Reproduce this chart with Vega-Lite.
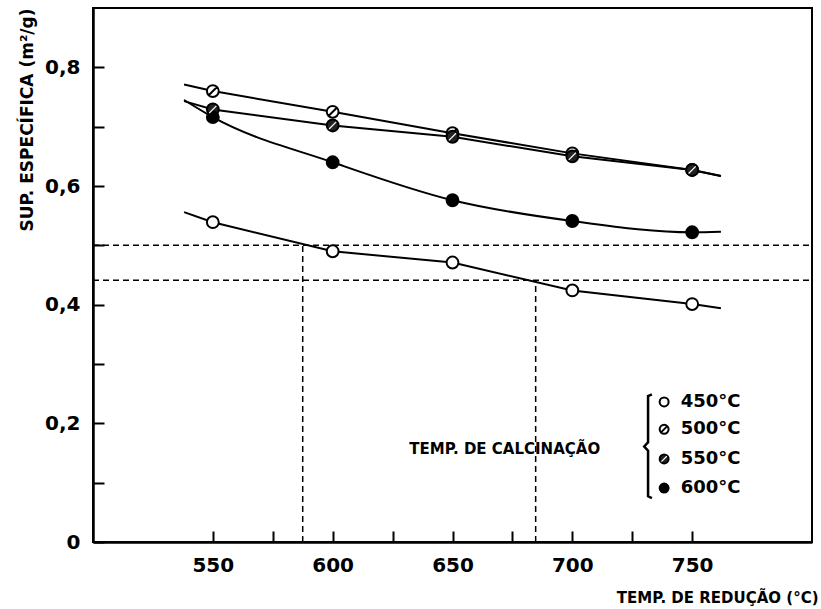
{
  "$schema": "https://vega.github.io/schema/vega-lite/v6.json",
  "width": 719,
  "height": 534,
  "autosize": "none",
  "padding": {"left": 93, "top": 8, "right": 9, "bottom": 67},
  "background": "white",
  "config": {
    "view": {"stroke": "black", "strokeWidth": 2},
    "axis": {
      "grid": false,
      "domainColor": "black",
      "domainWidth": 2.5,
      "tickColor": "black",
      "tickWidth": 2,
      "tickSize": -11,
      "labelFont": "DejaVu Sans",
      "labelFontWeight": "bold",
      "labelColor": "black",
      "titleFont": "DejaVu Sans",
      "titleFontWeight": "bold",
      "titleColor": "black"
    }
  },
  "datasets": {
    "series": [
      {"calc": "450°C", "x": 538, "y": 0.556, "pt": false},
      {"calc": "450°C", "x": 550, "y": 0.539, "pt": true},
      {"calc": "450°C", "x": 600, "y": 0.490, "pt": true},
      {"calc": "450°C", "x": 650, "y": 0.471, "pt": true},
      {"calc": "450°C", "x": 700, "y": 0.424, "pt": true},
      {"calc": "450°C", "x": 750, "y": 0.401, "pt": true},
      {"calc": "450°C", "x": 762, "y": 0.394, "pt": false},
      {"calc": "500°C", "x": 538, "y": 0.771, "pt": false},
      {"calc": "500°C", "x": 550, "y": 0.760, "pt": true},
      {"calc": "500°C", "x": 600, "y": 0.725, "pt": true},
      {"calc": "500°C", "x": 650, "y": 0.689, "pt": true},
      {"calc": "500°C", "x": 700, "y": 0.655, "pt": true},
      {"calc": "500°C", "x": 750, "y": 0.627, "pt": true},
      {"calc": "500°C", "x": 762, "y": 0.617, "pt": false},
      {"calc": "550°C", "x": 538, "y": 0.743, "pt": false},
      {"calc": "550°C", "x": 550, "y": 0.729, "pt": true},
      {"calc": "550°C", "x": 600, "y": 0.702, "pt": true},
      {"calc": "550°C", "x": 650, "y": 0.683, "pt": true},
      {"calc": "550°C", "x": 700, "y": 0.650, "pt": true},
      {"calc": "550°C", "x": 750, "y": 0.627, "pt": true},
      {"calc": "550°C", "x": 762, "y": 0.617, "pt": false},
      {"calc": "600°C", "x": 538, "y": 0.745, "pt": false},
      {"calc": "600°C", "x": 550, "y": 0.716, "pt": true},
      {"calc": "600°C", "x": 600, "y": 0.640, "pt": true},
      {"calc": "600°C", "x": 650, "y": 0.576, "pt": true},
      {"calc": "600°C", "x": 700, "y": 0.541, "pt": true},
      {"calc": "600°C", "x": 750, "y": 0.522, "pt": true},
      {"calc": "600°C", "x": 762, "y": 0.523, "pt": false}
    ],
    "guides": [
      {"x": 500, "y": 0.5, "x2": 800, "y2": 0.5},
      {"x": 500, "y": 0.441, "x2": 800, "y2": 0.441},
      {"x": 587.5, "y": 0, "x2": 587.5, "y2": 0.5},
      {"x": 684.7, "y": 0, "x2": 684.7, "y2": 0.441}
    ],
    "legend": [
      {"calc": "450°C", "x": 738.3, "y": 0.236, "lx": 745.2},
      {"calc": "500°C", "x": 738.3, "y": 0.190, "lx": 745.2},
      {"calc": "550°C", "x": 738.3, "y": 0.140, "lx": 745.2},
      {"calc": "600°C", "x": 738.3, "y": 0.091, "lx": 745.2}
    ],
    "notes": [
      {"text": "TEMP. DE CALCINAÇÃO", "x": 671.8, "y": 0.157}
    ],
    "brace": [
      {"o": 1, "x": 733.2, "y": 0.249},
      {"o": 2, "x": 731.6, "y": 0.246},
      {"o": 3, "x": 731.6, "y": 0.168},
      {"o": 4, "x": 730.0, "y": 0.161},
      {"o": 5, "x": 731.6, "y": 0.154},
      {"o": 6, "x": 731.6, "y": 0.077},
      {"o": 7, "x": 733.2, "y": 0.074}
    ]
  },
  "encoding": {
    "x": {
      "field": "x",
      "type": "quantitative",
      "scale": {"domain": [500, 800], "nice": false, "zero": false},
      "axis": {
        "values": [550, 575, 600, 625, 650, 675, 700, 725, 750],
        "format": "d",
        "labelExpr": "datum.value % 50 == 0 ? datum.label : ''",
        "labelFontSize": 20,
        "labelPadding": 24,
        "title": "TEMP.  DE  REDUÇÃO  (°C)",
        "titleFontSize": 15,
        "titleAnchor": "end",
        "titleAlign": "right",
        "titleX": 725,
        "titleY": 55,
        "titleBaseline": "middle"
      }
    },
    "y": {
      "field": "y",
      "type": "quantitative",
      "scale": {"domain": [0, 0.9], "nice": false},
      "axis": {
        "values": [0, 0.1, 0.2, 0.3, 0.4, 0.5, 0.6, 0.7, 0.8],
        "labelExpr": "datum.value == 0 ? '0' : (round(datum.value * 10) % 2 == 0 ? replace(format(datum.value, '.1f'), '.', ',') : '')",
        "labelFontSize": 20,
        "labelPadding": 24,
        "title": "SUP.  ESPECÍFICA  (m²/g)",
        "titleFontSize": 17,
        "titleAnchor": "end",
        "titleX": -66,
        "titleY": 0,
        "titleAlign": "right",
        "titleBaseline": "middle"
      }
    }
  },
  "layer": [
    {
      "data": {"name": "guides"},
      "mark": {"type": "rule", "color": "black", "strokeWidth": 1.5, "strokeDash": [6, 4]},
      "encoding": {"x2": {"field": "x2"}, "y2": {"field": "y2"}}
    },
    {
      "data": {"name": "series"},
      "transform": [{"filter": "datum.calc != '600°C'"}],
      "mark": {"type": "line", "color": "black", "strokeWidth": 2, "interpolate": "linear"},
      "encoding": {"detail": {"field": "calc"}}
    },
    {
      "data": {"name": "series"},
      "transform": [{"filter": "datum.calc == '600°C'"}],
      "mark": {"type": "line", "color": "black", "strokeWidth": 2, "interpolate": "monotone"},
      "encoding": {"detail": {"field": "calc"}}
    },
    {
      "data": {"name": "series"},
      "transform": [{"filter": "datum.pt"}],
      "mark": {"type": "point", "filled": true, "stroke": "black", "strokeWidth": 2, "size": 140, "opacity": 1},
      "encoding": {
        "shape": {"field": "calc", "type": "nominal", "legend": null,
          "scale": {"domain": ["450°C", "500°C", "550°C", "600°C"],
            "range": ["circle", "M1,0A1,1,0,1,1,-1,0A1,1,0,1,1,1,0Z M-0.7,0.7L0.7,-0.7", "circle", "circle"]}},
        "fill": {"field": "calc", "type": "nominal", "legend": null,
          "scale": {"domain": ["450°C", "500°C", "550°C", "600°C"], "range": ["white", "white", "#222222", "black"]}}
      }
    },
    {
      "data": {"name": "series"},
      "transform": [{"filter": "datum.pt && datum.calc == '550°C'"}],
      "mark": {"type": "point", "filled": false, "shape": "M-0.6,0.6L0.6,-0.6", "stroke": "white", "strokeWidth": 1.2, "size": 140, "opacity": 1}
    },
    {
      "data": {"name": "legend"},
      "mark": {"type": "point", "filled": true, "stroke": "black", "strokeWidth": 2, "size": 80, "opacity": 1},
      "encoding": {
        "shape": {"field": "calc", "type": "nominal", "legend": null},
        "fill": {"field": "calc", "type": "nominal", "legend": null}
      }
    },
    {
      "data": {"name": "legend"},
      "transform": [{"filter": "datum.calc == '550°C'"}],
      "mark": {"type": "point", "filled": false, "shape": "M-0.6,0.6L0.6,-0.6", "stroke": "white", "strokeWidth": 1.2, "size": 80, "opacity": 1}
    },
    {
      "data": {"name": "legend"},
      "mark": {"type": "text", "align": "left", "baseline": "middle", "font": "DejaVu Sans", "fontWeight": "bold", "fontSize": 18, "color": "black"},
      "encoding": {"x": {"field": "lx", "type": "quantitative"}, "text": {"field": "calc"}}
    },
    {
      "data": {"name": "notes"},
      "mark": {"type": "text", "align": "center", "baseline": "middle", "font": "DejaVu Sans", "fontWeight": "bold", "fontSize": 15, "color": "black"},
      "encoding": {"text": {"field": "text"}}
    },
    {
      "data": {"name": "brace"},
      "mark": {"type": "line", "color": "black", "strokeWidth": 2.5},
      "encoding": {"order": {"field": "o", "type": "quantitative"}}
    }
  ]
}
